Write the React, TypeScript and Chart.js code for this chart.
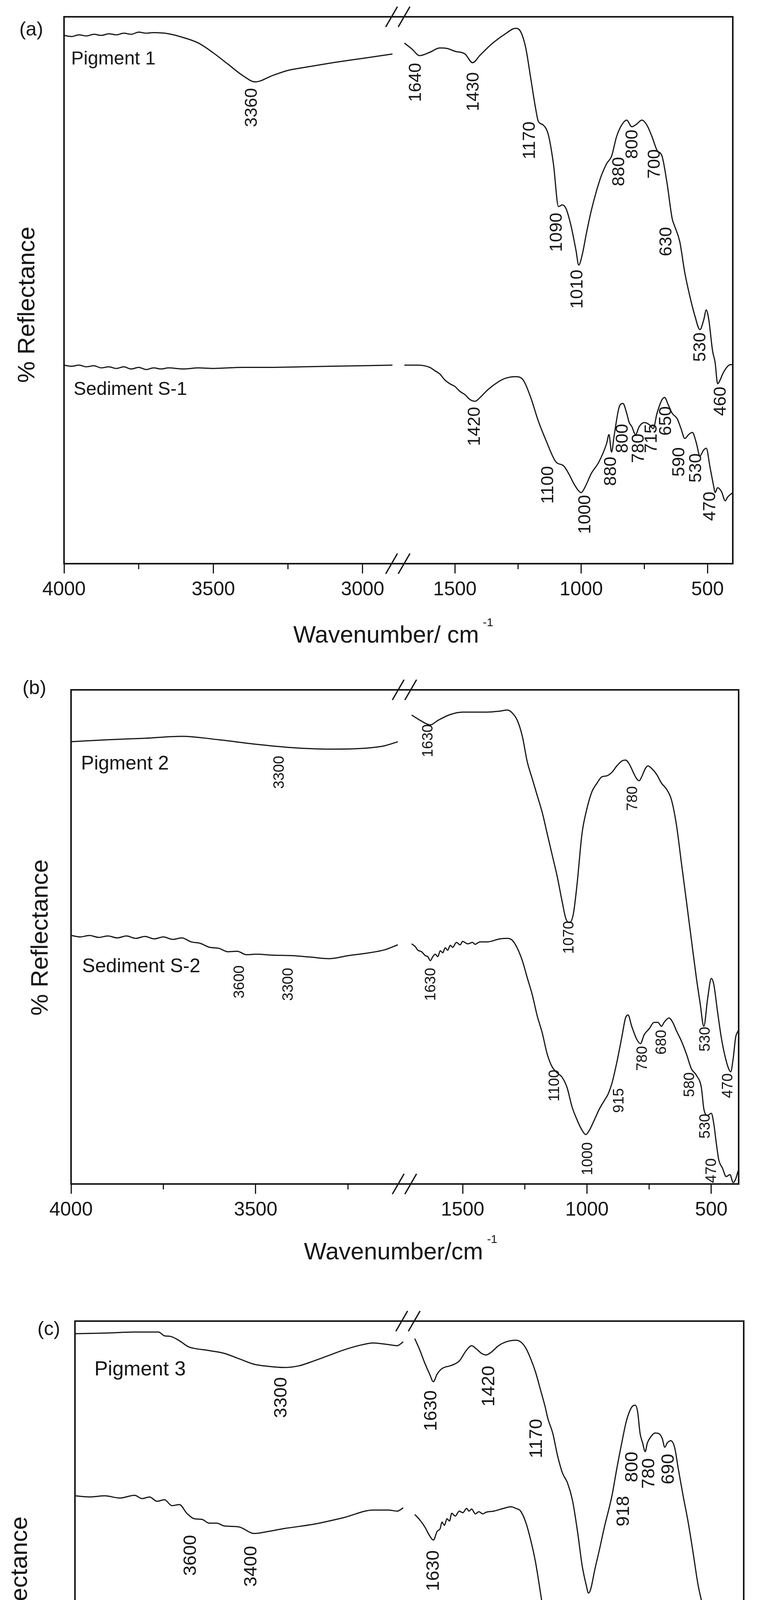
import React, { useEffect, useRef } from 'react';
import { Chart, registerables } from 'chart.js';

Chart.register(...registerables);

type Pt = [number, number];
type Lbl = [string, number, number];

const FONT = '"Liberation Sans", Arial, Helvetica, sans-serif';
const INK = '#161616';

// ---------------- Panel (a) ----------------
const ticksALeft = [4000, 3750, 3500, 3250, 3000];
const ticksARight = [1500, 1250, 1000, 750, 500];

const pigment1High: Pt[] = [[4000,96.6],[3975,96.4],[3950,96.7],[3925,96.5],[3900,96.8],[3875,96.6],[3850,96.9],[3825,96.7],[3800,97.0],[3775,96.8],[3750,97.2],[3725,97.0],[3700,97.1],[3650,96.9],[3600,96.2],[3550,95.2],[3500,93.4],[3450,91.3],[3400,89.2],[3360,88.1],[3300,89.3],[3250,90.2],[3200,90.7],[3100,91.6],[3000,92.4],[2900,93.2]];
const pigment1Low: Pt[] = [[1700,95.2],[1670,94.1],[1640,92.9],[1600,93.5],[1560,94.3],[1530,94.2],[1500,93.7],[1460,93.2],[1430,91.6],[1400,93.0],[1350,95.2],[1300,96.9],[1260,97.9],[1240,97.3],[1220,94.4],[1200,88.8],[1180,83.1],[1170,80.9],[1150,80.2],[1130,78.4],[1110,73.1],[1090,65.3],[1075,65.6],[1060,64.9],[1040,61.7],[1020,57.1],[1010,54.6],[995,56.7],[980,60.3],[960,64.6],[940,68.1],[920,71.0],[900,73.1],[880,74.5],[860,78.1],[840,80.2],[820,81.1],[800,79.9],[780,80.4],[760,81.1],[740,80.2],[720,78.1],[700,75.6],[680,74.5],[660,69.5],[640,63.1],[630,61.7],[610,58.9],[590,53.2],[570,48.9],[550,45.3],[530,42.8],[515,44.6],[505,46.4],[495,44.6],[480,38.9],[470,36.8],[460,32.9],[450,33.6],[440,34.7],[420,36.1],[410,36.4],[400,36.4]];
const sediment1High: Pt[] = [[4000,36.3],[3975,36.1],[3950,36.3],[3925,36.0],[3900,36.2],[3875,35.8],[3850,36.0],[3825,35.7],[3800,36.0],[3775,35.6],[3750,35.9],[3725,35.5],[3700,35.8],[3675,35.6],[3650,35.8],[3600,35.6],[3550,35.8],[3500,35.7],[3400,35.9],[3300,35.9],[3200,36.0],[3100,36.1],[3000,36.2],[2900,36.3]];
const sediment1Low: Pt[] = [[1700,36.3],[1650,36.3],[1600,35.9],[1580,35.3],[1560,34.7],[1540,33.6],[1520,32.9],[1500,32.4],[1480,31.5],[1460,30.9],[1440,30.0],[1420,29.7],[1400,30.4],[1370,31.8],[1330,33.2],[1300,33.9],[1260,34.2],[1230,33.6],[1200,30.4],[1170,26.1],[1140,22.6],[1100,18.6],[1070,17.9],[1050,16.5],[1030,14.7],[1010,13.3],[1000,13.0],[985,14.0],[960,16.5],[930,18.6],[900,21.9],[890,23.6],[880,20.4],[870,23.3],[850,28.6],[835,29.3],[820,27.5],[810,25.8],[800,25.1],[785,23.6],[770,25.1],[750,25.8],[730,25.4],[715,24.7],[700,27.5],[680,30.0],[670,30.4],[655,29.0],[640,27.5],[620,26.5],[605,24.7],[590,22.9],[575,23.6],[560,24.0],[545,22.2],[530,19.7],[515,20.8],[505,21.1],[490,17.6],[475,14.0],[470,13.0],[460,13.9],[445,13.2],[430,11.5],[420,12.2],[400,13.0]];
const peaksA: Lbl[] = [['3360',3370,83.4],['1640',1654,88.0],['1430',1426,86.3],['1170',1203,77.4],['1090',1096,60.6],['1010',1014,50.2],['880',849,71.7],['800',797,76.7],['700',708,73.1],['630',662,58.9],['530',527,39.6],['460',447,29.7],['1420',1420,25.1],['1100',1130,14.4],['1000',984,9.0],['880',881,16.9],['800',835,22.9],['780',772,21.1],['715',721,22.9],['650',664,26.1],['590',611,18.6],['530',544,17.5],['470',489,10.5]];
const namesA: Lbl[] = [['Pigment 1',3976,92.2],['Sediment S-1',3968,31.8]];

// ---------------- Panel (b) ----------------
const ticksBLeft = [4000, 3750, 3500, 3250];
const ticksBRight = [1500, 1250, 1000, 750, 500];

const pigment2High: Pt[] = [[4000,89.5],[3900,89.9],[3800,90.2],[3700,90.6],[3600,89.9],[3500,89.0],[3400,88.3],[3300,88.0],[3200,88.2],[3150,88.7],[3115,89.5]];
const pigment2Low: Pt[] = [[1705,94.9],[1670,93.8],[1630,92.9],[1600,93.8],[1550,95.0],[1500,95.5],[1450,95.5],[1400,95.5],[1350,95.7],[1320,95.9],[1300,95.3],[1280,93.8],[1260,90.6],[1240,85.4],[1220,82.0],[1200,78.6],[1180,75.2],[1160,70.9],[1140,66.6],[1120,62.3],[1100,57.2],[1085,53.7],[1070,52.9],[1055,54.6],[1040,60.6],[1020,70.9],[1000,76.0],[980,79.4],[960,81.1],[940,82.4],[920,82.6],[900,83.3],[880,84.6],[860,85.6],[845,85.8],[830,85.0],[810,82.9],[800,82.0],[790,81.6],[780,82.4],[765,84.1],[755,84.6],[740,84.1],[720,82.9],[700,81.1],[680,79.9],[660,77.7],[640,72.6],[620,64.9],[600,57.2],[580,49.4],[560,41.7],[545,36.6],[530,31.9],[515,37.4],[500,41.6],[490,40.4],[475,34.9],[460,29.7],[445,25.9],[430,23.3],[422,22.7],[412,25.4],[402,29.7],[392,31.0]];
const sediment2High: Pt[] = [[4000,50.3],[3975,50.0],[3950,50.3],[3925,49.9],[3900,50.2],[3875,49.8],[3850,50.2],[3825,49.7],[3800,50.1],[3775,49.6],[3750,50.0],[3725,49.5],[3700,49.8],[3675,49.0],[3650,48.7],[3625,47.9],[3600,47.7],[3575,47.0],[3550,47.1],[3525,46.4],[3500,46.5],[3450,46.3],[3400,46.2],[3350,45.9],[3300,45.6],[3250,46.2],[3200,46.7],[3150,47.4],[3115,48.4]];
const sediment2Low: Pt[] = [[1705,48.6],[1690,48.0],[1680,47.3],[1665,47.0],[1650,46.2],[1640,46.0],[1630,45.2],[1620,46.0],[1610,46.5],[1600,46.0],[1590,47.2],[1580,46.8],[1570,47.8],[1560,47.3],[1550,48.3],[1540,47.9],[1525,48.9],[1510,48.4],[1500,49.1],[1480,48.6],[1460,48.9],[1450,48.5],[1430,49.0],[1400,49.0],[1350,49.6],[1320,49.7],[1300,49.3],[1280,47.7],[1260,45.2],[1240,41.7],[1220,38.3],[1200,34.0],[1180,30.6],[1160,26.3],[1140,23.7],[1120,22.5],[1100,21.6],[1080,19.5],[1060,15.6],[1040,13.0],[1020,10.9],[1005,10.0],[990,10.9],[970,13.0],[950,15.2],[930,16.9],[915,18.2],[900,20.3],[880,24.6],[860,29.7],[845,33.6],[835,34.2],[820,31.9],[800,29.3],[785,28.4],[770,30.2],[750,31.4],[730,32.7],[715,32.7],[700,31.9],[690,32.7],[670,33.6],[655,32.7],[640,31.0],[620,28.9],[600,26.3],[580,23.3],[560,22.0],[540,19.5],[530,15.2],[515,13.9],[500,14.3],[490,12.2],[480,8.3],[470,4.9],[455,3.2],[440,1.5],[425,1.9],[412,0.3],[402,1.0],[392,2.7]];
const peaksB: Lbl[] = [['3300',3435,83.3],['1630',1638,89.7],['1070',1070,49.9],['780',814,78.0],['530',523,29.3],['470',432,19.9],['3600',3543,40.9],['3300',3411,40.4],['1630',1626,40.4],['1100',1128,19.9],['1000',996,5.1],['915',870,16.9],['780',775,25.4],['680',698,28.7],['580',585,20.1],['530',523,11.7],['470',498,2.7]];
const namesB: Lbl[] = [['Pigment 2',3973,85.0],['Sediment S-2',3970,43.9]];

// ---------------- Panel (c) ----------------
const ticksCLeft = [4000, 3750, 3500, 3250, 3000];
const ticksCRight = [1500, 1250, 1000, 750, 500];

const pigment3High: Pt[] = [[4000,97.7],[3900,97.8],[3800,98.0],[3720,98.0],[3700,97.3],[3680,97.2],[3650,96.4],[3620,95.3],[3600,95.0],[3550,94.6],[3500,94.1],[3450,93.1],[3400,92.1],[3350,91.7],[3300,91.5],[3250,91.8],[3200,92.7],[3150,93.7],[3100,94.7],[3050,95.5],[3000,96.0],[2950,95.7],[2920,95.5],[2900,96.2]];
const pigment3Low: Pt[] = [[1706,96.8],[1686,94.7],[1666,92.3],[1647,90.3],[1632,88.9],[1617,90.3],[1598,91.3],[1559,91.9],[1529,92.7],[1500,94.7],[1480,95.5],[1461,94.9],[1441,94.1],[1422,93.8],[1402,94.3],[1373,95.5],[1343,96.2],[1304,96.5],[1285,96.2],[1265,95.1],[1245,93.1],[1226,90.7],[1206,87.4],[1187,84.2],[1177,82.2],[1157,79.4],[1138,75.3],[1118,72.1],[1099,70.4],[1079,67.2],[1059,61.5],[1040,55.1],[1025,51.8],[1015,50.2],[1006,51.0],[991,54.3],[971,58.3],[952,62.3],[932,66.0],[922,68.0],[903,72.9],[883,77.7],[864,81.8],[844,84.2],[829,84.6],[820,83.4],[810,79.4],[800,77.7],[790,76.1],[781,77.7],[766,78.9],[751,79.5],[736,79.4],[722,78.5],[712,76.9],[702,77.7],[688,78.1],[673,76.9],[658,72.9],[639,68.0],[619,63.2],[599,57.5],[580,51.8],[565,48.6],[550,45.5],[530,43.7],[515,46.5],[500,48.6],[492,46.5],[485,40.0],[478,34.0],[470,30.5],[460,29.2],[450,28.6],[440,28.3],[430,29.5],[420,31.5],[410,34.5],[400,38.0]];
const sediment3High: Pt[] = [[4000,68.0],[3950,67.8],[3900,68.0],[3850,67.6],[3800,68.1],[3775,67.5],[3750,67.8],[3725,67.0],[3700,67.3],[3675,66.2],[3650,66.4],[3625,64.8],[3600,63.8],[3575,63.7],[3550,63.0],[3525,63.0],[3500,62.5],[3450,62.3],[3400,61.1],[3350,61.5],[3300,62.0],[3200,62.8],[3100,64.0],[3000,65.4],[2950,65.4],[2920,65.2],[2900,65.8]];
const sediment3Low: Pt[] = [[1706,64.6],[1686,63.6],[1666,62.3],[1647,60.7],[1632,59.9],[1617,61.5],[1605,62.0],[1598,63.2],[1588,62.6],[1578,63.8],[1568,63.4],[1559,64.8],[1545,64.3],[1529,65.2],[1515,64.9],[1500,65.7],[1490,65.2],[1480,65.6],[1465,64.7],[1451,65.1],[1436,64.7],[1422,65.0],[1392,65.2],[1353,65.7],[1324,66.0],[1304,65.7],[1285,65.2],[1265,63.2],[1245,59.9],[1226,55.9],[1206,50.2],[1187,44.5],[1167,38.9],[1148,35.6],[1128,33.6],[1117,32.8],[1099,31.6],[1079,26.7],[1059,21.9],[1040,17.8],[1025,15.8],[1016,14.7],[1006,15.4],[991,17.8],[971,21.1],[952,25.1],[932,28.3],[927,29.6],[913,34.0],[893,38.9],[874,42.9],[859,45.7],[839,47.5],[825,46.6],[810,43.7],[795,42.3],[781,43.1],[766,43.9],[751,44.1],[736,43.6],[722,44.7],[707,45.3],[702,45.7],[688,44.9],[678,45.3],[668,42.9],[658,42.5],[643,42.1],[629,39.7],[614,37.2],[599,34.8],[585,32.4],[570,31.2],[550,27.0],[535,24.5],[520,23.9],[505,24.6],[495,25.1],[485,21.1],[475,16.2],[465,12.5],[449,9.3],[435,6.5],[425,4.0],[415,1.6],[408,3.0],[400,3.9]];
const peaksC: Lbl[] = [['3300',3308,86.0],['1630',1640,83.6],['1420',1410,88.1],['1170',1220,78.5],['918',874,65.2],['800',840,73.3],['780',773,72.1],['690',696,72.9],['1010',1003,44.5],['530',533,39.7],['3600',3611,57.1],['3400',3408,55.1],['1630',1631,54.3],['1109',1122,27.5],['1006',1003,7.7],['915',844,26.7],['780',797,37.7],['720',725,39.3],['650',654,39.3],['580',619,27.5],['530',536,17.8],['460',440,23.5]];
const namesC: Lbl[] = [['Pigment 3',3935,91.1],['Sediment S-3',3955,47.0]];

// ---------------- layout of the three panels ----------------
const PANELS = [
  {
    top: 0, height: 1700, pad: { left: 164, right: 62, top: 43, bottom: 157 },
    leftRange: [2882, 4000], rightRange: [400, 1726], weights: [855, 858],
    ticksL: ticksALeft, ticksR: ticksARight,
    series: [[pigment1High, pigment1Low], [sediment1High, sediment1Low]],
    peaks: peaksA, names: namesA, letter: '(a)', letterXY: [80, 77], yTitleXY: [71, 780],
    xTitle: 'Wavenumber/ cm', xTitleX: 989, xTitleBase: 1645, nameSize: 48, peakSize: 45,
  },
  {
    top: 1700, height: 1650, pad: { left: 182, right: 47, top: 66, bottom: 219 },
    leftRange: [3097, 4000], rightRange: [390, 1734], weights: [854, 856],
    ticksL: ticksBLeft, ticksR: ticksBRight,
    series: [[pigment2High, pigment2Low], [sediment2High, sediment2Low]],
    peaks: peaksB, names: namesB, letter: '(b)', letterXY: [88, 63], yTitleXY: [105, 700],
    xTitle: 'Wavenumber/cm', xTitleX: 1008, xTitleBase: 1524, nameSize: 50, peakSize: 38,
  },
  {
    top: 3350, height: 1663, pad: { left: 192, right: 34, top: 32, bottom: 133 },
    leftRange: [2884, 4000], rightRange: [398, 1733], weights: [853, 860],
    ticksL: ticksCLeft, ticksR: ticksCRight,
    series: [[pigment3High, pigment3Low], [sediment3High, sediment3Low]],
    peaks: peaksC, names: namesC, letter: '(c)', letterXY: [125, 54], yTitleXY: [52, 732],
    xTitle: 'Wavenumber/ cm', xTitleX: 1015, xTitleBase: 1637, nameSize: 52, peakSize: 47,
  },
];

function font(size: number) {
  return `${size}px ${FONT}`;
}

function makeDecor(p: any) {
  return {
    id: 'decor',
    afterDatasetsDraw(chart: any) {
      const ctx = chart.ctx as CanvasRenderingContext2D;
      const { left, right, top, bottom } = chart.chartArea;
      const sL = chart.scales.xL;
      const sR = chart.scales.xR;
      const sY = chart.scales.y;
      const px = (w: number) => (w > 2000 ? sL : sR).getPixelForValue(w);
      ctx.save();
      ctx.strokeStyle = INK;
      ctx.fillStyle = INK;
      ctx.lineCap = 'butt';

      // frame
      ctx.lineWidth = 4;
      ctx.strokeRect(left, top, right - left, bottom - top);

      // minor ticks
      ctx.lineWidth = 3;
      for (const sc of [sL, sR]) {
        for (const t of sc.ticks) {
          if (t.value % 500 !== 0) {
            const x = sc.getPixelForValue(t.value);
            ctx.beginPath();
            ctx.moveTo(x, bottom);
            ctx.lineTo(x, bottom + 14);
            ctx.stroke();
          }
        }
      }

      // axis break marks
      const bx = sL.right;
      ctx.lineWidth = 3.5;
      for (const yy of [top, bottom]) {
        for (const dx of [-16, 16]) {
          ctx.beginPath();
          ctx.moveTo(bx + dx - 15, yy + 26);
          ctx.lineTo(bx + dx + 15, yy - 26);
          ctx.stroke();
        }
      }

      // series names
      ctx.font = font(p.nameSize);
      ctx.textAlign = 'left';
      ctx.textBaseline = 'middle';
      for (const [s, w, v] of p.names) {
        ctx.fillText(s, px(w), sY.getPixelForValue(v));
      }

      // peak labels (rotated)
      ctx.font = font(p.peakSize);
      ctx.textAlign = 'center';
      ctx.textBaseline = 'middle';
      for (const [s, w, v] of p.peaks) {
        ctx.save();
        ctx.translate(px(w), sY.getPixelForValue(v));
        ctx.rotate(-Math.PI / 2);
        ctx.fillText(s, 0, 0);
        ctx.restore();
      }

      // panel letter
      ctx.font = font(50);
      ctx.textAlign = 'center';
      ctx.textBaseline = 'middle';
      ctx.fillText(p.letter, p.letterXY[0], p.letterXY[1]);

      // y title
      ctx.save();
      ctx.translate(p.yTitleXY[0], p.yTitleXY[1]);
      ctx.rotate(-Math.PI / 2);
      ctx.font = font(62);
      ctx.fillText('% Reflectance', 0, 0);
      ctx.restore();

      // x title with superscript
      ctx.font = font(61);
      ctx.textAlign = 'center';
      ctx.textBaseline = 'alphabetic';
      const tw = ctx.measureText(p.xTitle).width;
      ctx.fillText(p.xTitle, p.xTitleX, p.xTitleBase);
      ctx.font = font(30);
      ctx.textAlign = 'left';
      ctx.fillText('-1', p.xTitleX + tw / 2 + 10, p.xTitleBase - 42);

      ctx.restore();
    },
  };
}

function Panel({ p }: { p: any }) {
  const ref = useRef<HTMLCanvasElement>(null);
  useEffect(() => {
    const datasets: any[] = [];
    p.series.forEach((pair: Pt[][]) => {
      pair.forEach((seg: Pt[], i: number) => {
        datasets.push({
          data: seg.map(([x, y]) => ({ x, y })),
          xAxisID: i === 0 ? 'xL' : 'xR',
          yAxisID: 'y',
          borderColor: INK,
          borderWidth: 3,
          pointRadius: 0,
          fill: false,
          cubicInterpolationMode: 'monotone',
        });
      });
    });
    const xAxis = (range: number[], weight: number, ticks: number[]) => ({
      type: 'linear',
      position: 'bottom',
      stack: 'wave',
      stackWeight: weight,
      reverse: true,
      min: range[0],
      max: range[1],
      afterBuildTicks: (s: any) => {
        s.ticks = ticks.map((v) => ({ value: v }));
      },
      afterFit: (s: any) => {
        s.height = 100;
      },
      ticks: {
        autoSkip: false,
        maxRotation: 0,
        minRotation: 0,
        padding: 12,
        color: INK,
        font: { family: FONT, size: 50 },
        callback: (v: any) => (Number(v) % 500 === 0 ? String(v) : ''),
      },
      grid: {
        display: true,
        drawOnChartArea: false,
        drawTicks: true,
        tickLength: 25,
        tickWidth: 3,
        tickColor: (c: any) => (c.tick && c.tick.value % 500 === 0 ? INK : 'rgba(0,0,0,0)'),
      },
      border: { display: false },
    });
    const chart = new Chart(ref.current as HTMLCanvasElement, {
      type: 'line',
      data: { datasets },
      options: {
        responsive: false,
        animation: false,
        devicePixelRatio: 1,
        events: [],
        layout: { padding: p.pad },
        plugins: { legend: { display: false }, tooltip: { enabled: false } },
        scales: {
          xL: xAxis(p.leftRange, p.weights[0], p.ticksL),
          xR: xAxis(p.rightRange, p.weights[1], p.ticksR),
          y: { type: 'linear', display: false, min: 0, max: 100 },
        },
      } as any,
      plugins: [makeDecor(p)],
    });
    return () => chart.destroy();
  }, []);
  return (
    <canvas
      ref={ref}
      width={1939}
      height={p.height}
      style={{ position: 'absolute', left: 0, top: p.top, width: 1939, height: p.height }}
    />
  );
}

export default function App() {
  return (
    <div style={{ position: 'absolute', left: 0, top: 0, width: 1939, height: 5013, background: '#fff' }}>
      {PANELS.map((p, i) => (
        <Panel key={i} p={p} />
      ))}
    </div>
  );
}
